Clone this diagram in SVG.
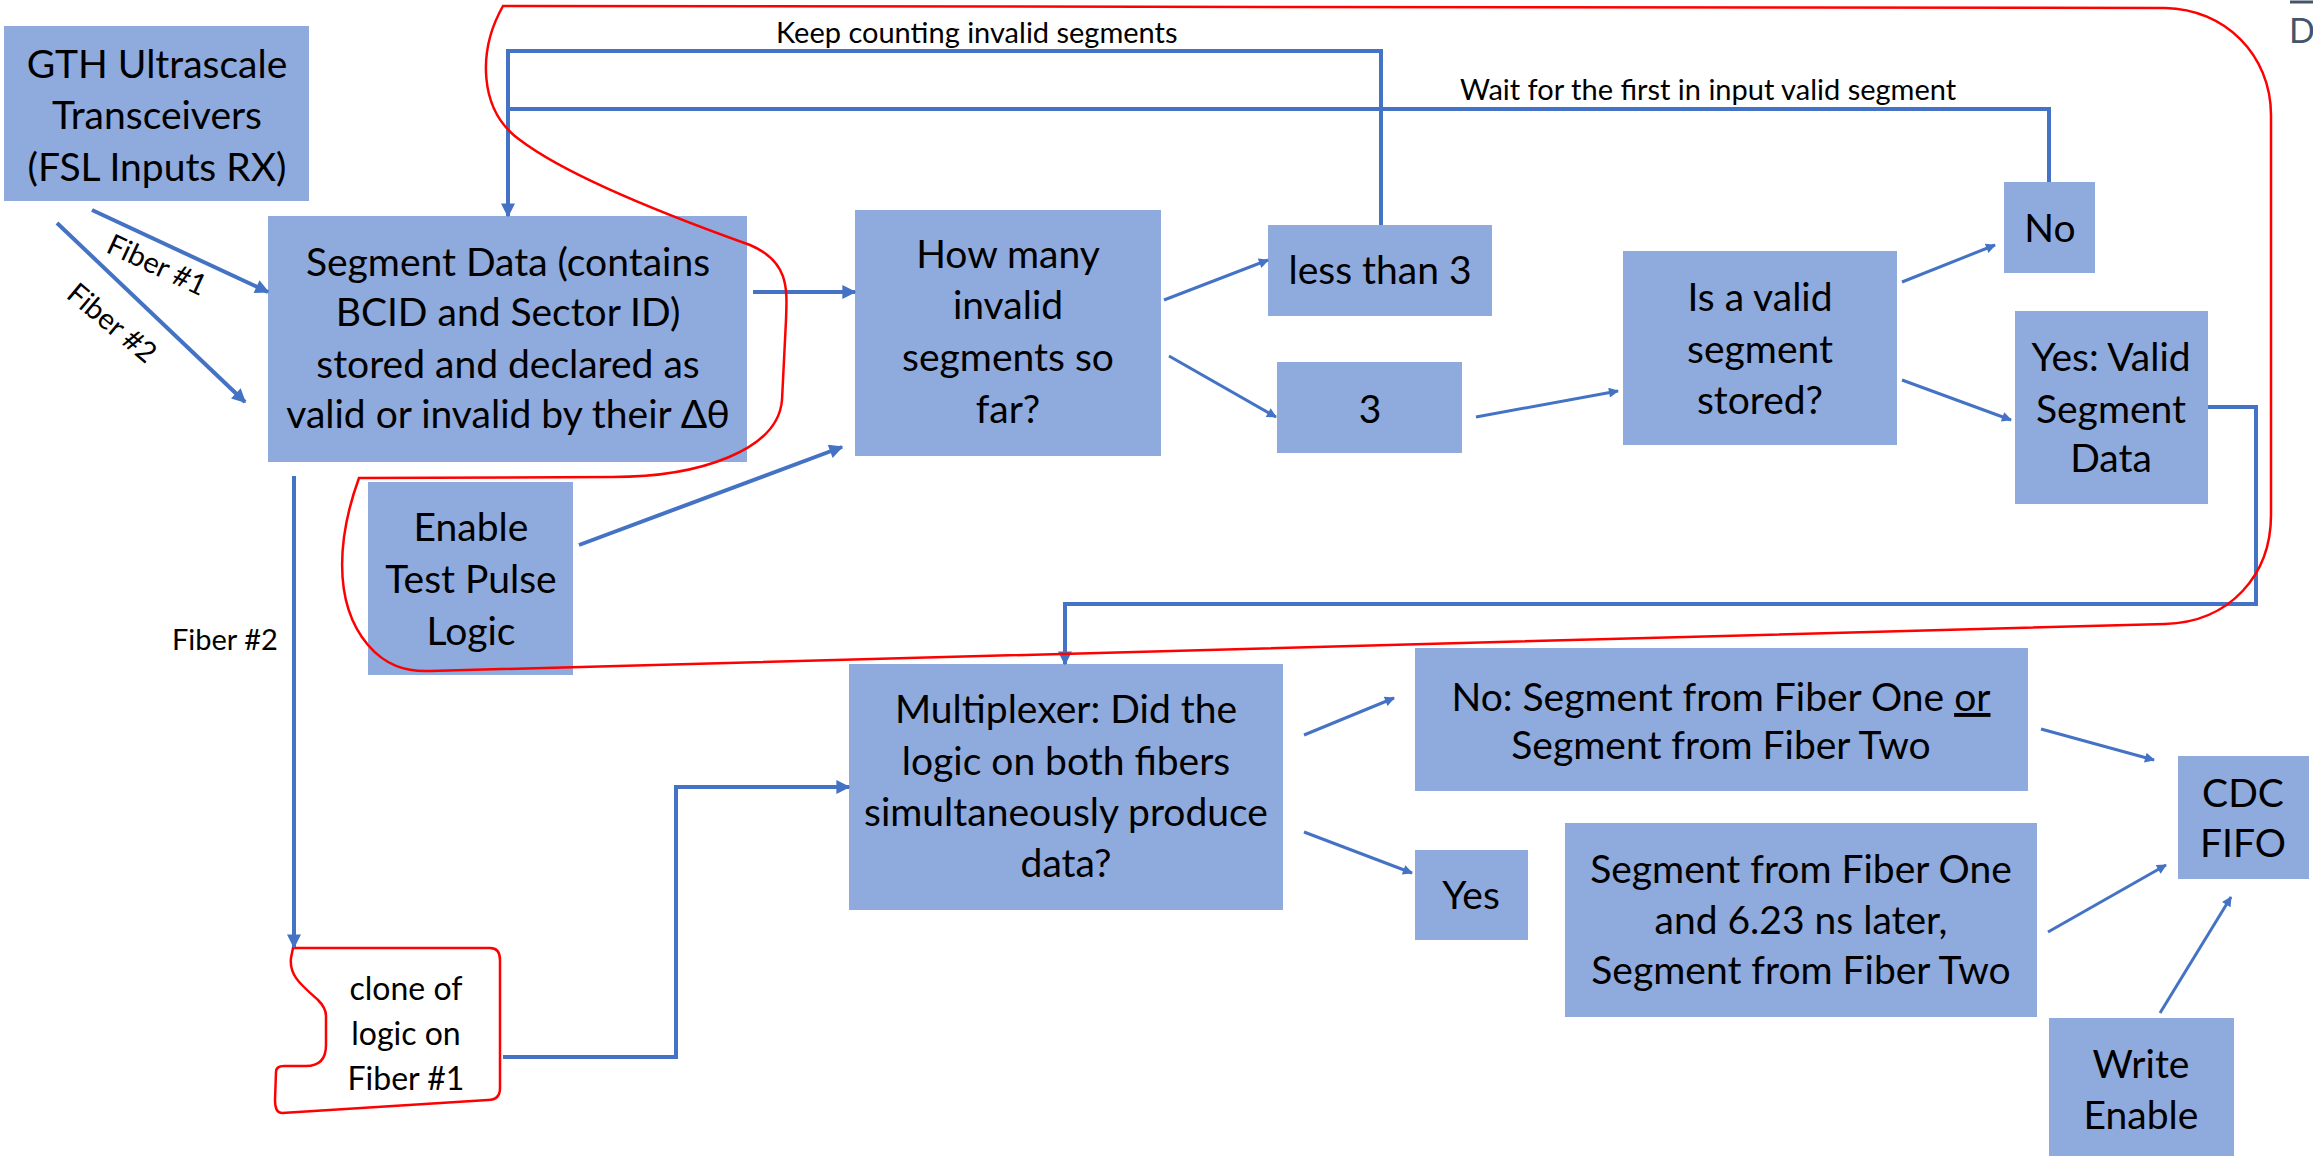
<svg xmlns="http://www.w3.org/2000/svg" width="2313" height="1156" viewBox="0 0 2313 1156">
<style>
.box{fill:#8FAADC;}
.t{font-family:Lato,"Liberation Sans",sans-serif;font-size:39px;fill:#000;text-anchor:middle;}
.lbl{font-family:Lato,"Liberation Sans",sans-serif;font-size:29px;fill:#000;}
.cl{font-family:Lato,"Liberation Sans",sans-serif;font-size:32px;fill:#000;text-anchor:middle;}
.c{fill:none;stroke:#4472C4;stroke-width:4;}
.d{fill:none;stroke:#4472C4;stroke-width:3;}
.red{fill:none;stroke:#FF0000;stroke-width:2.5;}
</style>
<defs>
<marker id="ah" viewBox="0 0 10 10" refX="9" refY="5" markerWidth="17" markerHeight="14" markerUnits="userSpaceOnUse" orient="auto">
<path d="M0,0 L10,5 L0,10 Z" fill="#4472C4"/>
</marker>
<marker id="as" viewBox="0 0 10 10" refX="9" refY="5" markerWidth="13" markerHeight="10" markerUnits="userSpaceOnUse" orient="auto">
<path d="M0,0 L10,5 L0,10 Z" fill="#4472C4"/>
</marker>
</defs>
<rect width="2313" height="1156" fill="#fff"/>

<g id="gth"><rect class="box" x="4" y="26" width="305" height="175"/>
<text class="t" x="157" y="78">GTH Ultrascale</text><text class="t" x="157" y="129">Transceivers</text><text class="t" x="157" y="181">(FSL Inputs RX)</text></g>

<g id="segment"><rect class="box" x="268" y="216" width="479" height="246"/>
<text class="t" x="508" y="276">Segment Data (contains</text><text class="t" x="508" y="326">BCID and Sector ID)</text><text class="t" x="508" y="378">stored and declared as</text><text class="t" x="508" y="428">valid or invalid by their Δθ</text></g>

<g id="howmany"><rect class="box" x="855" y="210" width="306" height="246"/>
<text class="t" x="1008" y="268">How many</text><text class="t" x="1008" y="319">invalid</text><text class="t" x="1008" y="371">segments so</text><text class="t" x="1008" y="423">far?</text></g>

<g id="lessthan3"><rect class="box" x="1268" y="225" width="224" height="91"/>
<text class="t" x="1380" y="284">less than 3</text></g>

<g id="three"><rect class="box" x="1277" y="362" width="185" height="91"/>
<text class="t" x="1370" y="423">3</text></g>

<g id="isvalid"><rect class="box" x="1623" y="251" width="274" height="194"/>
<text class="t" x="1760" y="311">Is a valid</text><text class="t" x="1760" y="363">segment</text><text class="t" x="1760" y="414">stored?</text></g>

<g id="no"><rect class="box" x="2004" y="182" width="91" height="91"/>
<text class="t" x="2050" y="242">No</text></g>

<g id="yesvalid"><rect class="box" x="2015" y="311" width="193" height="193"/>
<text class="t" x="2111" y="371">Yes: Valid</text><text class="t" x="2111" y="423">Segment</text><text class="t" x="2111" y="472">Data</text></g>

<g id="enabletp"><rect class="box" x="368" y="482" width="205" height="193"/>
<text class="t" x="471" y="541">Enable</text><text class="t" x="471" y="593">Test Pulse</text><text class="t" x="471" y="645">Logic</text></g>

<g id="mux"><rect class="box" x="849" y="664" width="434" height="246"/>
<text class="t" x="1066" y="723">Multiplexer: Did the</text><text class="t" x="1066" y="775">logic on both fibers</text><text class="t" x="1066" y="826">simultaneously produce</text><text class="t" x="1066" y="877">data?</text></g>

<g id="noseg"><rect class="box" x="1415" y="648" width="613" height="143"/>
<text class="t" x="1721" y="711">No: Segment from Fiber One <tspan style="text-decoration:underline">or</tspan></text><text class="t" x="1721" y="759">Segment from Fiber Two</text></g>

<g id="yes"><rect class="box" x="1415" y="850" width="113" height="90"/>
<text class="t" x="1471" y="909">Yes</text></g>

<g id="segone"><rect class="box" x="1565" y="823" width="472" height="194"/>
<text class="t" x="1801" y="883">Segment from Fiber One</text><text class="t" x="1801" y="934">and 6.23 ns later,</text><text class="t" x="1801" y="984">Segment from Fiber Two</text></g>

<g id="cdc"><rect class="box" x="2178" y="756" width="131" height="123"/>
<text class="t" x="2243" y="807">CDC</text><text class="t" x="2243" y="857">FIFO</text></g>

<g id="writeenable"><rect class="box" x="2049" y="1018" width="185" height="150"/>
<text class="t" x="2141" y="1078">Write</text><text class="t" x="2141" y="1129">Enable</text></g>

<g id="clone"><path class="red" fill="#fff" d="M293,948 L490,948 Q500,948 500,960 L500,1088 Q500,1100 488,1100 L282,1113 Q275,1113 275,1100 L276,1072 Q276,1066 284,1066 L306,1066 Q326,1066 326,1045 L326,1016 Q326,1008 318,1000 C300,984 289,975 291,958 Z"/>
<text class="cl" x="406" y="1000">clone of</text><text class="cl" x="406" y="1045">logic on</text><text class="cl" x="406" y="1090">Fiber #1</text></g>

<g id="connectors">
<line class="c" x1="92" y1="210" x2="268" y2="292" marker-end="url(#ah)"/>
<line class="c" x1="57" y1="223" x2="245" y2="402" marker-end="url(#ah)"/>
<line class="c" x1="753" y1="292" x2="855" y2="292" marker-end="url(#ah)"/>
<polyline class="c" points="1381,225 1381,51 508,51 508,216" marker-end="url(#ah)"/>
<polyline class="c" points="2049,182 2049,109 508,109"/>
<line class="d" x1="1164" y1="300" x2="1268" y2="260" marker-end="url(#as)"/>
<line class="d" x1="1169" y1="356" x2="1276" y2="417" marker-end="url(#as)"/>
<line class="c" x1="579" y1="545" x2="842" y2="447" marker-end="url(#ah)"/>
<line class="d" x1="1476" y1="417" x2="1618" y2="391" marker-end="url(#as)"/>
<line class="d" x1="1902" y1="282" x2="1995" y2="245" marker-end="url(#as)"/>
<line class="d" x1="1902" y1="380" x2="2011" y2="420" marker-end="url(#as)"/>
<polyline class="c" points="2208,407 2256,407 2256,604 1065,604 1065,664" marker-end="url(#ah)"/>
<line class="c" x1="294" y1="476" x2="294" y2="947" marker-end="url(#ah)"/>
<polyline class="c" points="503,1057 676,1057 676,787 849,787" marker-end="url(#ah)"/>
<line class="d" x1="1304" y1="735" x2="1394" y2="698" marker-end="url(#as)"/>
<line class="d" x1="1304" y1="832" x2="1412" y2="873" marker-end="url(#as)"/>
<line class="d" x1="2041" y1="729" x2="2154" y2="760" marker-end="url(#as)"/>
<line class="d" x1="2048" y1="932" x2="2166" y2="865" marker-end="url(#as)"/>
<line class="d" x1="2160" y1="1013" x2="2231" y2="897" marker-end="url(#as)"/>
</g>

<g id="labels">
<text class="lbl" x="776" y="43">Keep counting invalid segments</text>
<text class="lbl" x="1460" y="100">Wait for the first in input valid segment</text>
<text class="lbl" x="172" y="650">Fiber #2</text>
<text class="lbl" text-anchor="middle" transform="translate(157,265) rotate(25)" y="10">Fiber #1</text>
<text class="lbl" text-anchor="middle" transform="translate(112,323) rotate(40)" y="10">Fiber #2</text>
</g>

<path id="loop" class="red" d="M503,6 C478,50 478,110 520,140 C570,178 680,220 750,245 C790,262 787,290 786,320 L782,400 C778,450 700,477 612,477 L359,478 C340,530 330,600 368,645 C385,665 405,672 430,671 L2165,624 C2230,622 2271,575 2271,515 L2271,115 C2271,55 2225,9 2165,8 Z"/>

<g id="corner"><line x1="2290" y1="2" x2="2313" y2="2" stroke="#44546A" stroke-width="3"/>
<text x="2289" y="43" style="font-family:Lato,'Liberation Sans',sans-serif;font-size:34px;fill:#44546A;">D</text></g>
</svg>
